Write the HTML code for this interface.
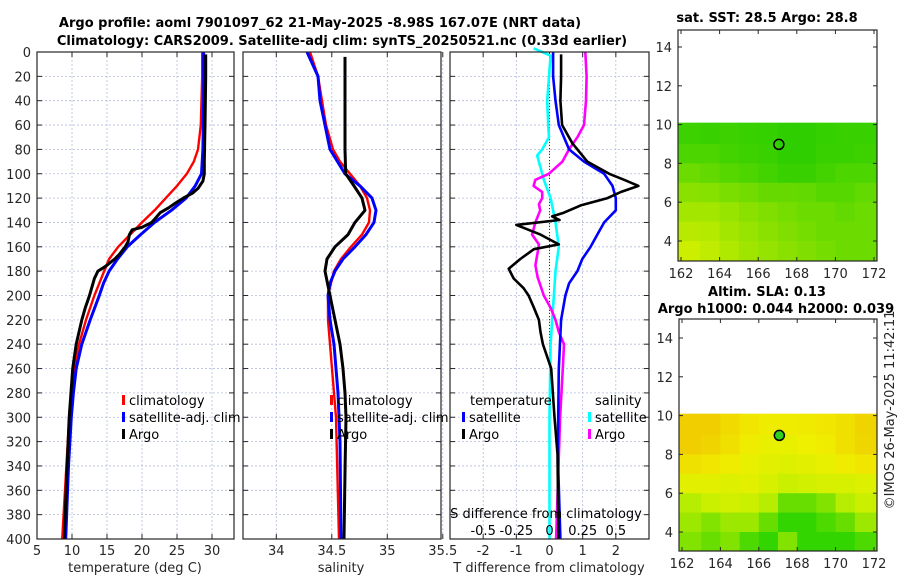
<!DOCTYPE html>
<html><head><meta charset="utf-8"><style>
body{margin:0;background:#fff;}
svg{display:block;font-family:"DejaVu Sans","Liberation Sans",sans-serif;}
</style></head><body>
<svg id="fig" width="900" height="580" viewBox="0 0 900 580" xmlns="http://www.w3.org/2000/svg">
<text x="320" y="27" text-anchor="middle" font-size="13" font-weight="bold" fill="#000">Argo profile: aoml 7901097_62 21-May-2025 -8.98S 167.07E (NRT data)</text>
<text x="342" y="45" text-anchor="middle" font-size="13" font-weight="bold" fill="#000">Climatology: CARS2009. Satellite-adj clim: synTS_20250521.nc (0.33d earlier)</text>
<text x="767" y="22" text-anchor="middle" font-size="13" font-weight="bold">sat. SST: 28.5 Argo: 28.8</text>
<text x="767" y="296" text-anchor="middle" font-size="13" font-weight="bold">Altim. SLA: 0.13</text>
<text x="776" y="313" text-anchor="middle" font-size="13" font-weight="bold">Argo h1000: 0.044 h2000: 0.039</text>
<text transform="translate(894,410) rotate(-90)" text-anchor="middle" font-size="13" fill="#262626">©IMOS 26-May-2025 11:42:11</text>
<g id="plots"></g>
</svg>
<script>
// ---- data ----
const depthTicks=[0,20,40,60,80,100,120,140,160,180,200,220,240,260,280,300,320,340,360,380,400];
const tempTicks=[5,10,15,20,25,30];
const salTicks=[34,34.5,35,35.5];
const tdiffTicks=[-2,-1,0,1,2];
const sdiffTicks=[-0.5,-0.25,0,0.25,0.5];
const sdiffTickLabels=["-0.5","-0.25","0","0.25","0.5"];

const climTDepth=[0,20,40,60,80,90,100,110,120,130,140,150,160,170,180,190,200,220,240,260,280,300,320,340,360,380,400];
const climT=[28.6,28.6,28.5,28.4,28.0,27.4,26.4,25.0,23.4,21.8,20.0,18.3,16.6,15.3,14.6,13.9,13.2,12.0,11.0,10.3,9.9,9.6,9.4,9.2,9.0,8.8,8.6];
const satTDepth=[0,40,80,100,110,120,130,140,150,160,170,180,190,200,220,240,260,280,300,340,400];
const satT=[28.8,28.8,28.7,28.5,27.6,26.3,24.2,21.8,19.8,17.9,16.5,15.3,14.5,13.9,12.6,11.4,10.6,10.2,9.9,9.5,9.1];
const argoTDepth=[2,20,60,90,100,106,112,116,120,124,128,132,136,140,144,146,150,156,160,166,170,176,180,186,192,200,210,220,240,260,300,340,400];
const argoT=[29.1,29.1,29.0,28.9,28.9,28.7,28.0,27.2,25.9,24.8,23.8,22.6,22.0,21.4,20.0,18.6,18.2,18.0,17.6,16.8,16.1,14.8,13.7,13.2,12.9,12.5,11.9,11.4,10.6,10.1,9.6,9.3,8.9];

const climSDepth=[0,20,40,60,80,90,100,110,120,130,140,150,160,170,180,200,220,260,300,400];
const climS=[34.304,34.376,34.412,34.448,34.511,34.574,34.664,34.754,34.817,34.844,34.835,34.772,34.673,34.583,34.52,34.466,34.466,34.502,34.538,34.565];
const satSDepth=[0,20,40,60,80,100,110,120,130,140,150,160,170,180,190,200,220,240,280,320,400];
const satS=[34.277,34.376,34.394,34.439,34.484,34.619,34.754,34.862,34.898,34.88,34.808,34.709,34.601,34.529,34.484,34.466,34.484,34.52,34.556,34.574,34.583];
const argoSDepth=[4,40,80,100,110,120,130,140,150,160,170,180,200,220,240,260,280,300,340,400];
const argoS=[34.619,34.619,34.619,34.625,34.7,34.772,34.799,34.709,34.646,34.529,34.457,34.439,34.484,34.529,34.574,34.601,34.619,34.628,34.62,34.61];

const tSatDiffDepth=[0,20,40,60,80,90,100,110,120,130,140,150,160,170,180,190,200,220,260,330,400];
const tSatDiff=[0.11,0.11,0.18,0.28,0.59,1.04,1.65,1.9,2.0,2.0,1.65,1.44,1.24,0.99,0.84,0.59,0.48,0.35,0.28,0.25,0.33];
const tArgoDiffDepth=[2,20,40,60,75,90,100,105,110,115,120,126,132,135,138,142,150,158,162,170,178,186,194,200,210,220,230,240,260,300,330,400];
const tArgoDiff=[0.35,0.35,0.33,0.38,0.69,1.14,1.8,2.25,2.68,2.15,1.75,0.94,0.43,0.08,0.3,-1.0,-0.27,0.28,-0.47,-0.88,-1.23,-1.08,-0.78,-0.63,-0.47,-0.32,-0.27,-0.2,0.05,0.15,0.24,0.27];
const sSatDiffDepth=[-3,3,20,40,60,70,80,85,95,105,120,140,160,180,200,220,240,300,400];
const sSatDiff=[-0.12,0.008,-0.004,-0.017,-0.01,-0.004,-0.055,-0.093,-0.068,-0.043,0.008,0.045,0.07,0.045,0.033,0.02,0.008,0.0,0.0];
const sArgoDiffDepth=[0,20,40,60,70,80,90,100,105,110,115,120,125,130,140,150,158,165,175,185,200,210,220,230,240,260,300,400];
const sArgoDiff=[0.27,0.28,0.275,0.26,0.21,0.147,0.097,-0.005,-0.106,-0.12,-0.055,-0.055,-0.08,-0.07,-0.106,-0.131,-0.08,-0.09,-0.106,-0.09,-0.043,0.008,0.045,0.07,0.109,0.1,0.08,0.05];

// map grids: rows lat 10->3 (1 deg each), cols lon 162->172
const mapLon=[162,163,164,165,166,167,168,169,170,171];
const mapLat=[10,9,8,7,6,5,4];
const sstGrid=[
[0.22,0.2,0.22,0.2,0.18,0.15,0.15,0.18,0.2,0.2],
[0.3,0.3,0.25,0.22,0.2,0.15,0.15,0.2,0.2,0.22],
[0.45,0.4,0.35,0.3,0.25,0.2,0.2,0.25,0.3,0.3],
[0.6,0.58,0.52,0.48,0.42,0.42,0.4,0.35,0.35,0.4],
[0.72,0.72,0.66,0.6,0.55,0.5,0.45,0.45,0.4,0.45],
[0.82,0.8,0.72,0.66,0.6,0.55,0.5,0.45,0.45,0.45],
[0.92,0.86,0.78,0.7,0.65,0.6,0.55,0.5,0.45,0.45]];
const slaGrid=[
[0.95,0.95,0.85,0.75,0.7,0.7,0.72,0.75,0.8,0.9],
[0.95,0.9,0.8,0.7,0.6,0.6,0.65,0.7,0.8,0.88],
[0.8,0.75,0.7,0.6,0.55,0.5,0.55,0.6,0.7,0.75],
[0.55,0.55,0.5,0.55,0.45,0.35,0.4,0.45,0.45,0.5],
[0.3,0.35,0.4,0.35,0.3,0.15,0.15,0.2,0.3,0.35],
[0.25,0.2,0.25,0.25,0.15,0.05,0.05,0.1,0.15,0.25],
[0.2,0.15,0.2,0.1,0.05,0.2,0.05,0.05,0.05,0.1]];
const floatLon=167.07, floatLat=8.98;

// ---- drawing ----
const NS='http://www.w3.org/2000/svg';
const G=document.getElementById('plots');
function mk(tag,attrs,parent){const e=document.createElementNS(NS,tag);for(const k in attrs)e.setAttribute(k,attrs[k]);(parent||G).appendChild(e);return e;}
const Y0=52,Y1=539;
const yD=d=>Y0+(d/400)*(Y1-Y0);
const panels=[
 {name:'temperature-panel',x0:37,x1:234,vmin:5,vmax:33.14},
 {name:'salinity-panel',x0:243,x1:441,vmin:33.7,vmax:35.484},
 {name:'difference-panel',x0:450,x1:649,vmin:-3,vmax:3}];
const sx=(p,v)=>p.x0+(v-p.vmin)/(p.vmax-p.vmin)*(p.x1-p.x0);
const sS=v=>sx(panels[2],v*4); // S diff axis: 0.25 == 1 deg T

function frame(p,vt){
 const g=mk('g',{});
 
 
 for(const d of depthTicks){const l=mk('line',{x1:p.x0,x2:p.x1,y1:yD(d),y2:yD(d),stroke:'#b4bcdc','stroke-width':0.8,'stroke-dasharray':'2,2'},g);
  }
 for(const v of vt){const x=sx(p,v);const l=mk('line',{x1:x,x2:x,y1:Y0,y2:Y1,stroke:'#b4bcdc','stroke-width':0.8,'stroke-dasharray':'2,2'},g);
  }
 for(const d of depthTicks){mk('line',{x1:p.x0,x2:p.x0+5,y1:yD(d),y2:yD(d),stroke:'#262626'},g);mk('line',{x1:p.x1,x2:p.x1-5,y1:yD(d),y2:yD(d),stroke:'#262626'},g);}
 for(const v of vt){const x=sx(p,v);mk('line',{x1:x,x2:x,y1:Y1,y2:Y1-5,stroke:'#262626'},g);mk('line',{x1:x,x2:x,y1:Y0,y2:Y0+5,stroke:'#262626'},g);}
 return g;}
function box(p){const r=mk('rect',{x:p.x0,y:Y0,width:p.x1-p.x0,height:Y1-Y0,fill:'none',stroke:'#262626','stroke-width':1.2});
 }
function line(name,depths,vals,xf,color,w){
 let pts=depths.map((d,i)=>xf(vals[i]).toFixed(1)+','+yD(d).toFixed(1)).join(' ');
 const pl=mk('polyline',{points:pts,fill:'none',stroke:color,'stroke-width':w||2.6,'stroke-linejoin':'round'});
 
 }
function txt(s,x,y,attrs,name){const t=mk('text',Object.assign({x:x,y:y,'font-size':13,fill:'#262626'},attrs||{}));t.textContent=s;
 return t;}

const [P1,P2,P3]=panels;
frame(P1,tempTicks);frame(P2,salTicks);frame(P3,tdiffTicks);
for(const d of depthTicks)txt(String(d),31,yD(d)+5,{'text-anchor':'end'},'depth-tick-label');
// panel 1
line('climatology-temperature',climTDepth,climT,v=>sx(P1,v),'#ff0000',2.4);
line('satellite-temperature',satTDepth,satT,v=>sx(P1,v),'#0000ff',3);
line('argo-temperature',argoTDepth,argoT,v=>sx(P1,v),'#000000',3);
for(const v of tempTicks)txt(String(v),sx(P1,v),555,{'text-anchor':'middle'},'temperature-tick-label');
txt('temperature (deg C)',135,572,{'text-anchor':'middle'},'temperature-axis-title');
// panel 2
line('climatology-salinity',climSDepth,climS,v=>sx(P2,v),'#ff0000',2.4);
line('satellite-salinity',satSDepth,satS,v=>sx(P2,v),'#0000ff',3);
line('argo-salinity',argoSDepth,argoS,v=>sx(P2,v),'#000000',3);
for(const v of salTicks)txt(String(v),sx(P2,v),555,{'text-anchor':'middle'},'salinity-tick-label');
txt('salinity',341,572,{'text-anchor':'middle'},'salinity-axis-title');
// panel 3
const zl=mk('line',{x1:sx(P3,0),x2:sx(P3,0),y1:Y0,y2:Y1,stroke:'#333','stroke-width':1,'stroke-dasharray':'1,2'});

line('salinity-satellite-diff',sSatDiffDepth,sSatDiff,sS,'#00ffff',2.6);
line('salinity-argo-diff',sArgoDiffDepth,sArgoDiff,sS,'#ff00ff',2.6);
line('temperature-satellite-diff',tSatDiffDepth,tSatDiff,v=>sx(P3,v),'#0000ff',2.6);
line('temperature-argo-diff',tArgoDiffDepth,tArgoDiff,v=>sx(P3,v),'#000000',2.6);
for(const v of tdiffTicks)txt(String(v),sx(P3,v),555,{'text-anchor':'middle'},'tdiff-tick-label');
txt('T difference from climatology',549,572,{'text-anchor':'middle'},'tdiff-axis-title');
txt('S difference from climatology',546,518,{'text-anchor':'middle','fill':'#000'},'sdiff-axis-title');
sdiffTicks.forEach((v,i)=>txt(sdiffTickLabels[i],sS(v),535,{'text-anchor':'middle','fill':'#000'},'sdiff-tick-label'));
box(P1);box(P2);box(P3);
// legends
function leg(x,y,color,label,name){const m=mk('rect',{x:x,y:y-10,width:3,height:10,fill:color});
 
 txt(label,x+7,y,{'fill':'#000'},name);}
leg(122,405,'#ff0000','climatology','legend-climatology');
leg(122,422,'#0000ff','satellite-adj. clim','legend-satellite');
leg(122,439,'#000000','Argo','legend-argo');
leg(330,405,'#ff0000','climatology','legend2-climatology');
leg(330,422,'#0000ff','satellite-adj. clim','legend2-satellite');
leg(330,439,'#000000','Argo','legend2-argo');
txt('temperature',470,405,{'fill':'#000'},'legend-temperature-heading');
leg(462,422,'#0000ff','satellite','legend-tdiff-satellite');
leg(462,439,'#000000','Argo','legend-tdiff-argo');
txt('salinity',595,405,{'fill':'#000'},'legend-salinity-heading');
leg(588,422,'#00ffff','satellite','legend-sdiff-satellite');
leg(588,439,'#ff00ff','Argo','legend-sdiff-argo');

// maps
function lerp(a,b,t){return a.map((v,i)=>Math.round(v+(b[i]-v)*t));}
function cmapSST(v){return 'rgb('+lerp([16,200,0],[220,242,0],v).join(',')+')';}
function cmapSLA(v){const s=[[24,208,0],[200,240,0],[240,240,0],[240,200,0]];
 const t=Math.min(0.999,v)*3;const i=Math.floor(t);return 'rgb('+lerp(s[i],s[i+1],t-i).join(',')+')';}
function drawMap(name,x0,x1,yTop,yBot,lat14,lat4,grid,cm,filled){
 const g=mk('g',{});
 const mx=lon=>x0+3+(lon-162)*(x1-x0-6)/10;
 const my=lat=>lat14+(14-lat)*(lat4-lat14)/10;
 grid.forEach((row,r)=>row.forEach((v,c)=>{
  const xa=mapLon[c]===162?x0:mx(mapLon[c]);const xb=c===row.length-1?x1:mx(mapLon[c]+1);
  const ya=r===0?my(10.1):my(mapLat[r]);const yb=r===grid.length-1?yBot:my(mapLat[r]-1);
  const cell=mk('rect',{x:xa,y:ya,width:xb-xa+0.5,height:yb-ya+0.5,fill:cm(v)},g);
  }));
 const fr=mk('rect',{x:x0,y:yTop,width:x1-x0,height:yBot-yTop,fill:'none',stroke:'#262626','stroke-width':1.2},g);
 
 for(const lat of [4,6,8,10,12,14]){mk('line',{x1:x0,x2:x0+4,y1:my(lat),y2:my(lat),stroke:'#262626'},g);mk('line',{x1:x1,x2:x1-4,y1:my(lat),y2:my(lat),stroke:'#262626'},g);
  txt(String(lat),x0-6,my(lat)+5,{'text-anchor':'end'},'lat-tick-label');}
 for(const lon of [162,164,166,168,170,172]){mk('line',{x1:mx(lon),x2:mx(lon),y1:yBot,y2:yBot-4,stroke:'#262626'},g);mk('line',{x1:mx(lon),x2:mx(lon),y1:yTop,y2:yTop+4,stroke:'#262626'},g);
  txt(String(lon),mx(lon),yBot+17,{'text-anchor':'middle'},'lon-tick-label');}
 const c=mk('circle',{cx:mx(floatLon),cy:my(floatLat),r:5,fill:filled?'#30d020':'none',stroke:'#000','stroke-width':1.5},g);
 
}
drawMap('sst-map',678,877,30,261,47,241,sstGrid,cmapSST,false);
drawMap('sla-map',679,877,319,551,338,532,slaGrid,cmapSLA,true);
</script>
</body></html>
